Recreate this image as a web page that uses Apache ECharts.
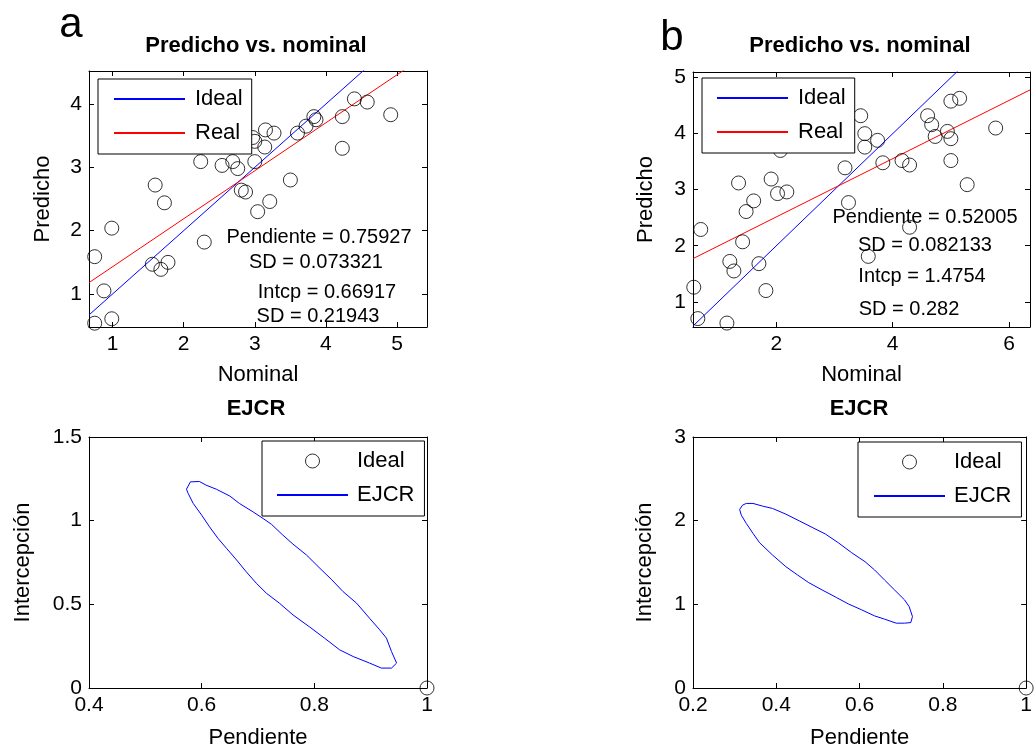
<!DOCTYPE html>
<html><head><meta charset="utf-8">
<script src="https://cdn.jsdelivr.net/npm/echarts@6/dist/echarts.min.js"></script>
<style>html,body{margin:0;padding:0;background:#fff}#c{width:1035px;height:751px}</style>
</head><body><div id="c"></div>
<script>
// ---- Panel a : Predicho vs. nominal ----
const nominalA  = [0.75,0.99,0.88,0.75,0.99,1.60,1.73,1.56,1.68,1.78,2.24,2.29,2.54,2.69,2.76,2.81,2.87,3.00,2.97,3.00,3.04,3.15,3.14,3.27,3.21,3.50,3.60,3.72,3.83,3.86,4.23,4.23,4.40,4.58,4.91];
const predichoA = [1.59,2.04,1.05,0.54,0.61,2.72,2.44,1.47,1.39,1.50,3.09,1.82,3.03,3.09,2.98,2.64,2.61,3.09,3.47,3.41,2.30,3.59,3.32,3.54,2.46,2.80,3.54,3.65,3.80,3.75,3.80,3.30,4.08,4.03,3.83];
const idealLineA = [[0.67,0.67],[5.42,5.42]];
const realLineA  = [[0.67,1.18],[5.42,4.78]];
const statsA = ['Pendiente = 0.75927','SD = 0.073321','Intcp = 0.66917','SD = 0.21943'];

// ---- Panel b : Predicho vs. nominal ----
const nominalB  = [0.70,0.58,0.65,1.15,1.35,1.20,1.27,1.42,1.48,1.61,1.70,1.82,1.91,2.02,2.18,2.07,3.18,3.24,3.45,3.52,3.52,3.74,3.83,4.16,4.29,4.29,3.58,4.60,4.67,4.73,4.94,5.00,5.00,5.15,5.00,5.28,5.77];
const predichoB = [2.29,1.26,0.70,0.62,3.12,1.72,1.55,2.07,2.61,2.80,1.68,1.20,3.19,2.93,2.96,3.70,3.39,2.77,4.32,4.00,3.76,3.88,3.48,3.52,3.44,2.33,1.81,4.32,4.16,3.95,4.04,3.91,4.58,4.63,3.52,3.09,4.10];
const idealLineB = [[0.567,0.567],[6.36,6.36]];
const realLineB  = [[0.567,1.77],[6.36,4.78]];
const statsB = ['Pendiente = 0.52005','SD = 0.082133','Intcp = 1.4754','SD = 0.282'];

// ---- Panel c : EJCR ----
const slopeC = [0.573,0.580,0.596,0.608,0.626,0.650,0.667,0.691,0.709,0.724,0.744,0.762,0.786,0.810,0.830,0.851,0.875,0.898,0.916,0.928,0.937,0.946,0.937,0.919,0.898,0.869,0.845,0.818,0.792,0.762,0.738,0.715,0.697,0.679,0.662,0.644,0.629,0.614,0.600,0.585,0.576,0.573];
const intcpC = [1.188,1.232,1.234,1.212,1.188,1.147,1.103,1.053,1.013,0.978,0.914,0.860,0.795,0.715,0.650,0.576,0.507,0.417,0.348,0.298,0.218,0.149,0.119,0.119,0.149,0.188,0.228,0.298,0.364,0.437,0.507,0.566,0.626,0.695,0.765,0.835,0.894,0.963,1.033,1.103,1.163,1.188];

// ---- Panel d : EJCR ----
const slopeD = [0.312,0.319,0.328,0.344,0.367,0.391,0.423,0.455,0.486,0.518,0.549,0.581,0.613,0.636,0.660,0.684,0.708,0.719,0.727,0.723,0.708,0.688,0.660,0.636,0.605,0.573,0.545,0.510,0.478,0.451,0.423,0.391,0.360,0.344,0.328,0.316,0.312];
const intcpD = [2.134,2.186,2.206,2.206,2.174,2.146,2.078,1.998,1.920,1.840,1.736,1.617,1.510,1.411,1.291,1.172,1.053,0.973,0.854,0.782,0.775,0.775,0.823,0.862,0.934,1.005,1.080,1.172,1.259,1.351,1.450,1.589,1.736,1.848,1.967,2.066,2.134];

const idealPoint = [[1, 0]];

const FONT = '"Liberation Sans", Arial, Helvetica, sans-serif';
const zip = (a, b) => a.map((v, i) => [v, b[i]]);

const grids = [
  {left: 89,  top: 71,  width: 338, height: 256},
  {left: 693, top: 72,  width: 337, height: 255},
  {left: 89,  top: 437, width: 338, height: 251},
  {left: 693, top: 437, width: 337, height: 251}
];

const xAxes = [], yAxes = [];
const intFmt = v => (Math.abs(v - Math.round(v)) < 1e-6 ? String(Math.round(v)) : '');
function addAxes(g, o) {
  const base = {
    type: 'value', gridIndex: g, splitLine: {show: false},
    axisLine: {show: true, onZero: false, lineStyle: {color: '#000', width: 1}},
    axisTick: {show: true, inside: true, length: 5, lineStyle: {color: '#000', width: 1}}
  };
  const xr = o.xInt != null ? {min: o.xmin, max: o.xmax, interval: o.xInt}
                            : {min: o.xmin, max: o.xmax, splitNumber: o.xSplit, minInterval: o.xStep, maxInterval: o.xStep};
  const yr = o.yInt != null ? {min: o.ymin, max: o.ymax, interval: o.yInt}
                            : {min: o.ymin, max: o.ymax, splitNumber: o.ySplit, minInterval: o.yStep, maxInterval: o.yStep};
  const lbl = {color: '#000', fontSize: 21, fontFamily: FONT, margin: 7};
  if (o.intLabels) { lbl.formatter = intFmt; lbl.showMinLabel = false; lbl.showMaxLabel = false; }
  const nameStyle = {color: '#000', fontSize: 22, fontFamily: FONT};
  xAxes.push(Object.assign({}, base, xr, {position: 'bottom', name: o.xname, nameLocation: 'middle', nameGap: o.xGap, nameTextStyle: nameStyle, axisLabel: lbl}));
  xAxes.push(Object.assign({}, base, xr, {position: 'top', axisLabel: {show: false}}));
  yAxes.push(Object.assign({}, base, yr, {position: 'left', name: o.yname, nameLocation: 'middle', nameGap: o.yGap, nameTextStyle: nameStyle, axisLabel: lbl}));
  yAxes.push(Object.assign({}, base, yr, {position: 'right', axisLabel: {show: false}}));
}
addAxes(0, {xmin: 0.67, xmax: 5.42, xSplit: 5, xStep: 1, ymin: 0.48, ymax: 4.52, ySplit: 4, yStep: 1, intLabels: true, xname: 'Nominal', yname: 'Predicho', xGap: 37, yGap: 35});
addAxes(1, {xmin: 0.567, xmax: 6.36, xSplit: 3, xStep: 2, ymin: 0.55, ymax: 5.10, ySplit: 5, yStep: 1, intLabels: true, xname: 'Nominal', yname: 'Predicho', xGap: 37, yGap: 36});
addAxes(2, {xmin: 0.4, xmax: 1, xInt: 0.2, ymin: 0, ymax: 1.5, yInt: 0.5, xname: 'Pendiente', yname: 'Intercepción', xGap: 39, yGap: 55});
addAxes(3, {xmin: 0.2, xmax: 1, xInt: 0.2, ymin: 0, ymax: 3, yInt: 1, xname: 'Pendiente', yname: 'Intercepción', xGap: 39, yGap: 37});

const circleStyle = {color: 'rgba(0,0,0,0)', borderColor: '#000', borderWidth: 1};
function scatter(name, g, data) {
  return {name, type: 'scatter', xAxisIndex: 2 * g, yAxisIndex: 2 * g, data, symbol: 'circle', symbolSize: 14,
          itemStyle: circleStyle, clip: false, z: 3, silent: true};
}
function line(name, g, data, color) {
  return {name, type: 'line', xAxisIndex: 2 * g, yAxisIndex: 2 * g, data, symbol: 'none', showSymbol: false,
          lineStyle: {color, width: 1}, itemStyle: {color}, clip: true, z: 2, silent: true};
}

const series = [
  scatter('datosA', 0, zip(nominalA, predichoA)),
  line('Ideal', 0, idealLineA, '#0000ff'),
  line('Real', 0, realLineA, '#ff0000'),
  scatter('datosB', 1, zip(nominalB, predichoB)),
  line('Ideal ', 1, idealLineB, '#0000ff'),
  line('Real ', 1, realLineB, '#ff0000'),
  scatter('Ideal  ', 2, idealPoint),
  line('EJCR', 2, zip(slopeC, intcpC), '#0000ff'),
  scatter('Ideal   ', 3, idealPoint),
  line('EJCR ', 3, zip(slopeD, intcpD), '#0000ff')
];

function legend(left, top, names, pad, textPad) {
  return {
    left, top, orient: 'vertical', itemWidth: 71, itemHeight: 14, itemGap: 10,
    padding: pad, borderColor: '#000', borderWidth: 1, borderRadius: 0, backgroundColor: '#fff',
    selectedMode: false, formatter: n => n.trim(),
    textStyle: {fontSize: 22, fontFamily: FONT, color: '#000', lineHeight: 24, padding: [0, 0, 0, textPad]},
    data: names, z: 5
  };
}
const circleLegend = n => ({name: n, icon: 'circle', itemStyle: circleStyle});
const lineLegend = n => ({name: n, itemStyle: {color: 'rgba(0,0,0,0)', borderColor: 'rgba(0,0,0,0)', borderWidth: 0, opacity: 0}});

const titleStyle = {fontSize: 22, fontWeight: 'bold', fontFamily: FONT, color: '#000'};
const titles = [
  {text: 'Predicho vs. nominal', left: 256, top: 35},
  {text: 'Predicho vs. nominal', left: 860, top: 35},
  {text: 'EJCR', left: 256, top: 398},
  {text: 'EJCR', left: 859, top: 398}
].map(t => Object.assign(t, {textAlign: 'center', padding: 0, textStyle: titleStyle}));

function txt(x, y, s, size) {
  return {type: 'text', x, y, z: 100, style: {text: s, fontSize: size, fontFamily: FONT, fill: '#000', align: 'center', verticalAlign: 'middle'}};
}
const graphics = [
  txt(71, 25, 'a', 42),
  txt(672, 38, 'b', 42),
  txt(319, 237, statsA[0], 20),
  txt(316, 262, statsA[1], 20),
  txt(327, 292, statsA[2], 20),
  txt(318, 316, statsA[3], 20),
  txt(925, 217, statsB[0], 20),
  txt(925, 245, statsB[1], 20),
  txt(922, 276, statsB[2], 20),
  txt(909, 309, statsB[3], 20)
];

const chart = echarts.init(document.getElementById('c'), null, {renderer: 'canvas'});
chart.setOption({
  animation: false,
  backgroundColor: '#fff',
  title: titles,
  grid: grids,
  xAxis: xAxes,
  yAxis: yAxes,
  legend: [
    legend(98, 79, [lineLegend('Ideal'), lineLegend('Real')], [8, 9, 9, 15], 5),
    legend(702, 78, [lineLegend('Ideal '), lineLegend('Real ')], [8, 9, 9, 14], 5),
    legend(262, 441, [circleLegend('Ideal  '), lineLegend('EJCR')], [8, 10, 9, 14], 4),
    legend(858, 442, [circleLegend('Ideal   '), lineLegend('EJCR ')], [8, 10, 9, 15], 4)
  ],
  series,
  graphic: graphics
});
</script></body></html>
